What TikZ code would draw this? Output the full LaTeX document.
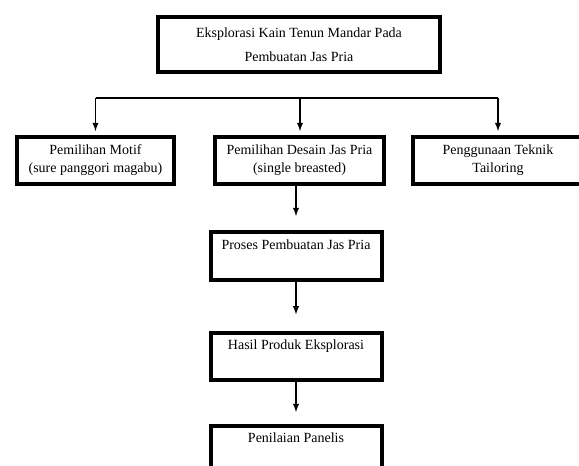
\documentclass[tikz,border=0pt]{standalone}
\usepackage{fontspec}
\setmainfont{Liberation Serif}
\usetikzlibrary{arrows}

\begin{document}
\begin{tikzpicture}[x=0.75pt,y=-0.75pt,
        kotak/.style={draw,line width=3pt,inner sep=0pt,align=center,
            font=\fontsize{10.5}{13.5}\selectfont},
        panah/.style={-latex,line width=1.1pt}]
            \useasboundingbox (0,0) rectangle (579,466);
            \clip (0,0) rectangle (579,466);
            % judul
            \node[kotak,minimum width=211.5pt,minimum height=41.25pt,
                font=\fontsize{10.5}{18}\selectfont] (judul) at (299,44.5)
                {Eksplorasi Kain Tenun Mandar Pada\\Pembuatan Jas Pria};
            % baris kedua
            \node[kotak,minimum width=117.75pt,minimum height=35.25pt] (motif) at (95.5,160.5)
                {Pemilihan Motif\\(sure panggori magabu)};
            \node[kotak,minimum width=126.75pt,minimum height=35.25pt] (desain) at (299.5,160.5)
                {Pemilihan Desain Jas Pria\\(single breasted)};
            \node[kotak,minimum width=127.5pt,minimum height=35.25pt] (teknik) at (498,160.5)
                {Penggunaan Teknik\\Tailoring};
            % alur ke bawah
            \node[kotak,minimum width=128.25pt,minimum height=36pt] (proses) at (296,256)
                {Proses Pembuatan Jas Pria\\\strut};
            \node[kotak,minimum width=128.25pt,minimum height=35.25pt] (hasil) at (296,356.5)
                {Hasil Produk Eksplorasi\\\strut};
            \node[kotak,minimum width=128.25pt,minimum height=35.25pt] (nilai) at (296,449.5)
                {Penilaian Panelis\\\strut};
            % cabang
            \coordinate (cabangkiri) at (95.5,98);
            \coordinate (cabangtengah) at (300,98);
            \coordinate (cabangkanan) at (498,98);
            \draw[line width=1.1pt] (cabangkiri)--(cabangkanan);
            \draw[panah,shorten >=3pt] (cabangkiri)--(motif.north);
            \draw[panah,shorten >=3pt] (cabangtengah)--(desain.north -| cabangtengah);
            \draw[panah,shorten >=3pt] (cabangkanan)--(teknik.north);
            \draw[panah,shorten >=10.5pt] (desain.south -| proses.north)--(proses.north);
            \draw[panah,shorten >=12.5pt] (proses.south)--(hasil.north);
            \draw[panah,shorten >=9pt] (hasil.south)--(nilai.north);
        \end{tikzpicture}
\end{document}
